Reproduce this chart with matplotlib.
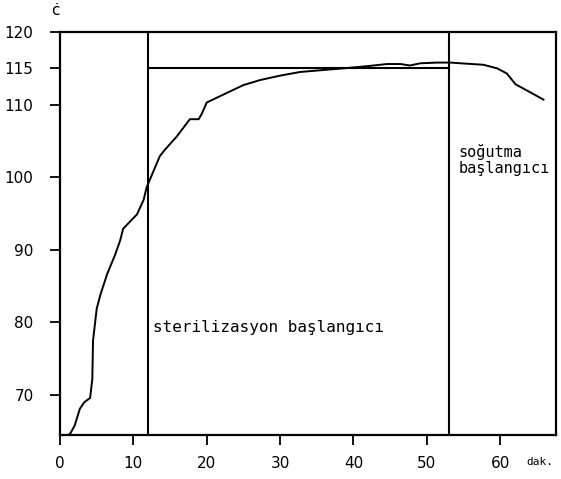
import matplotlib
matplotlib.use("Agg")
import matplotlib.pyplot as plt

# --- Datos (minutos, °C) ---
t_min = [0, 1.1, 1.4, 2.0, 2.7, 3.3, 4.1, 4.4, 4.5, 5.0, 5.5, 6.4, 7.5, 8.2,
         8.6, 10.5, 11.4, 11.8, 13.6, 14.3, 15.9, 17.7, 18.9, 19.3, 20.0,
         22.7, 25.0, 27.3, 30.0, 32.7, 35.0, 38.6, 41.8, 44.6, 46.4, 47.7,
         49.1, 51.4, 53.2, 54.6, 57.7, 59.6, 60.9, 62.1, 63.2, 65.9]
temp = [64.5, 64.5, 64.7, 65.8, 68.1, 69.0, 69.6, 72.2, 77.5, 81.9, 83.8, 86.6,
        89.3, 91.3, 92.9, 94.9, 96.9, 98.6, 102.9, 103.8, 105.6, 108.0, 108.0,
        108.7, 110.3, 111.6, 112.7, 113.4, 114.0, 114.5, 114.7, 115.0, 115.3,
        115.6, 115.6, 115.4, 115.7, 115.8, 115.8, 115.7, 115.5, 115.0, 114.3,
        112.8, 112.2, 110.7]

t_steril = 12      # comienzo de esterilización
t_enfria = 53      # comienzo de enfriamiento
T_steril = 115

xticks = [0, 10, 20, 30, 40, 50, 60]
yticks = [70, 80, 90, 100, 110, 115, 120]

fig = plt.figure(figsize=(5.61, 4.79), dpi=100)
ax = fig.add_axes([0.107, 0.092, 0.884, 0.841])

ax.plot(t_min, temp, color='black', lw=1.4)
ax.axvline(t_steril, color='black', lw=1.5)
ax.axvline(t_enfria, color='black', lw=1.5)
ax.plot([t_steril, t_enfria], [T_steril, T_steril], color='black', lw=1.5)

ax.set_xlim(0, 67.6)
ax.set_ylim(64.5, 120)

ax.set_xticks(xticks)
ax.set_yticks(yticks)
ax.set_xticklabels([str(v) for v in xticks])
ax.set_yticklabels([str(v) for v in yticks])
ax.tick_params(axis='both', direction='out', length=7, width=1.3,
               labelsize=11)
ax.tick_params(axis='x', pad=8)
ax.tick_params(axis='y', pad=12)
for s in ax.spines.values():
    s.set_linewidth(1.6)

# etiqueta de unidades
ax.text(63.6, 60.8, "dak.", fontsize=8, ha='left', va='center',
        clip_on=False, family='DejaVu Sans Mono')
ax.text(-0.7, 123.0, "ċ", fontsize=11, ha='center', va='center', clip_on=False)

ax.text(12.7, 79.3, "sterilizasyon başlangıcı", fontsize=11.5, va='center',
        family='DejaVu Sans Mono')
ax.text(54.3, 102.4, "soğutma\nbaşlangıcı", fontsize=11, va='center',
        linespacing=1.1, family='DejaVu Sans Mono')

fig.savefig("out.png", dpi=100)
